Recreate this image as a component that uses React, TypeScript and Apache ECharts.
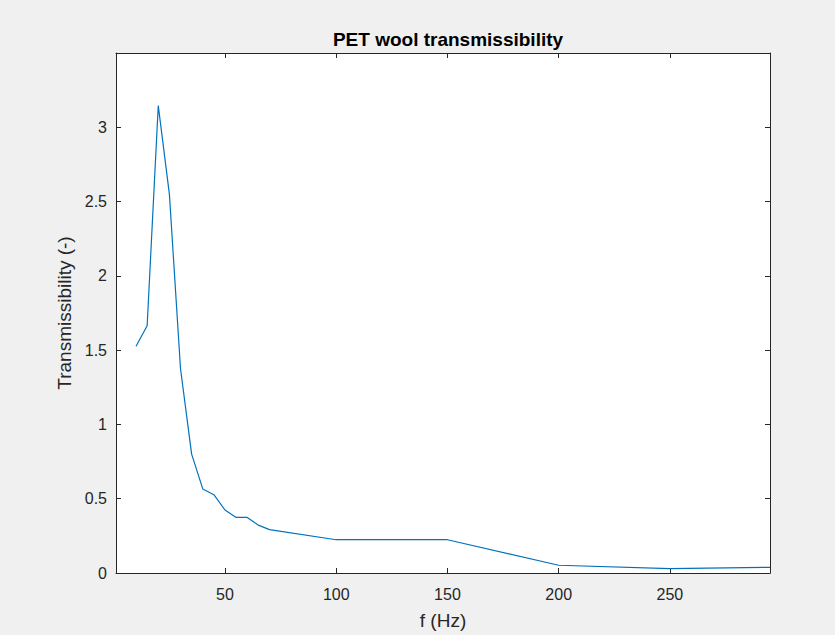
import React, { useEffect, useRef } from "react";
import * as echarts from "echarts";

const freq = [10, 15, 20, 25, 30, 35, 40, 45, 50, 55, 60, 65, 70, 100, 150, 200, 250, 295];
const transmissibility = [1.526, 1.664, 3.146, 2.55, 1.375, 0.8, 0.566, 0.527, 0.424, 0.374, 0.374, 0.322, 0.292, 0.224, 0.224, 0.052, 0.03, 0.038];
const xTicks = [50, 100, 150, 200, 250];
const yTicks = [0, 0.5, 1, 1.5, 2, 2.5, 3];

const FONT = "'Liberation Sans', Arial, Helvetica, sans-serif";
const AX = "#262626";

export default function App() {
  const ref = useRef<HTMLDivElement>(null);
  useEffect(() => {
    const chart = echarts.init(ref.current!, null, { renderer: "svg" });
    const axisLine = { show: true, onZero: false, lineStyle: { color: AX, width: 1 } };
    const tick = (vals: number[]) => ({ show: true, inside: true, length: 5, lineStyle: { color: AX }, customValues: vals });
    chart.setOption({
      animation: false,
      backgroundColor: "#f0f0f0",
      title: {
        text: "PET wool transmissibility",
        left: 443,
        textAlign: "center",
        top: 25,
        textStyle: { fontFamily: FONT, fontSize: 19, fontWeight: "bold", color: "#000" },
      },
      grid: { left: 116, top: 53, right: 65, bottom: 59, show: true, backgroundColor: "#fff", borderWidth: 0 },
      xAxis: [
        {
          type: "value",
          min: 1,
          max: 295,
          position: "bottom",
          name: "f (Hz)",
          nameLocation: "middle",
          nameGap: 38,
          nameTextStyle: { fontFamily: FONT, fontSize: 19, color: AX },
          axisLabel: { fontFamily: FONT, fontSize: 16, color: AX, margin: 13, customValues: xTicks },
          axisTick: tick(xTicks),
          axisLine,
          splitLine: { show: false },
        },
        {
          type: "value",
          min: 1,
          max: 295,
          position: "top",
          axisLabel: { show: false, customValues: xTicks },
          axisTick: tick(xTicks),
          axisLine,
          splitLine: { show: false },
        },
      ],
      yAxis: [
        {
          type: "value",
          min: 0,
          max: 3.5,
          interval: 0.5,
          position: "left",
          name: "Transmissibility (-)",
          nameLocation: "middle",
          nameGap: 42,
          nameTextStyle: { fontFamily: FONT, fontSize: 19, color: AX },
          axisLabel: { fontFamily: FONT, fontSize: 16, color: AX, margin: 9, padding: [3, 0, 0, 0], customValues: yTicks },
          axisTick: tick(yTicks),
          axisLine,
          splitLine: { show: false },
        },
        {
          type: "value",
          min: 0,
          max: 3.5,
          interval: 0.5,
          position: "right",
          axisLabel: { show: false, customValues: yTicks },
          axisTick: tick(yTicks),
          axisLine,
          splitLine: { show: false },
        },
      ],
      series: [
        {
          type: "line",
          data: freq.map((f, i) => [f, transmissibility[i]]),
          showSymbol: false,
          symbol: "none",
          lineStyle: { color: "#0072BD", width: 1.2 },
          clip: true,
        },
      ],
    });
    return () => chart.dispose();
  }, []);
  return <div ref={ref} style={{ position: "fixed", left: 0, top: 0, width: 835, height: 635 }} />;
}
